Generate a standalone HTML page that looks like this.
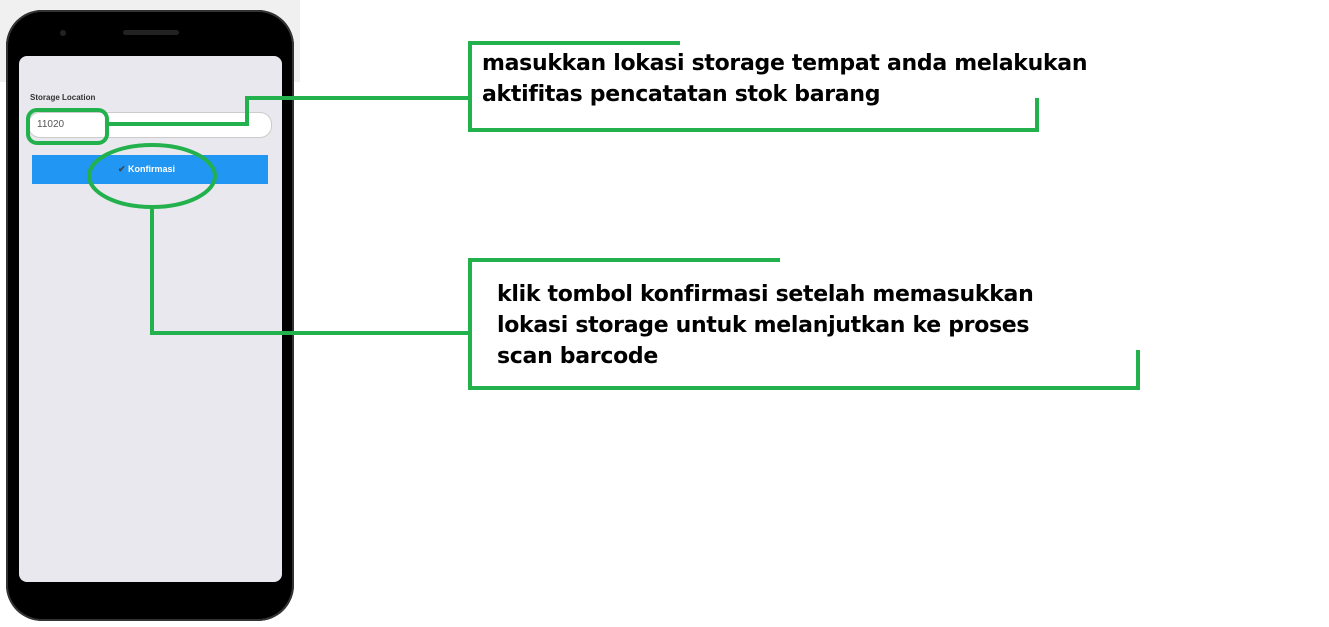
<!DOCTYPE html>
<html><head><style>
body{margin:0;width:1329px;height:627px;background:#fff;position:relative;overflow:hidden;font-family:"Liberation Sans",sans-serif}
.t{position:absolute;font-weight:bold;font-size:22px;color:#000;line-height:31px;font-family:"DejaVu Sans","Liberation Sans",sans-serif;letter-spacing:-0.3px}
</style></head><body>
<div style="position:absolute;left:0;top:0;width:300px;height:82px;background:#f0f0f0"></div>
<div style="position:absolute;left:6px;top:10px;width:288px;height:611px;background:#000;border-radius:36px;box-shadow:inset 0 0 0 2px #333"></div>
<div style="position:absolute;left:60px;top:30px;width:6px;height:6px;border-radius:50%;background:#222"></div>
<div style="position:absolute;left:123px;top:30px;width:56px;height:5px;border-radius:3px;background:#222"></div>
<div style="position:absolute;left:19px;top:56px;width:263px;height:526px;background:#e9e8ee;border-radius:8px"></div>
<div style="position:absolute;left:30px;top:93px;font-size:8px;font-weight:bold;color:#333">Storage Location</div>
<div style="position:absolute;left:28px;top:112px;width:242px;height:24px;background:#fff;border:1px solid #ccc;border-radius:12px"></div>
<div style="position:absolute;left:37px;top:119px;font-size:10px;color:#555">11020</div>
<div style="position:absolute;left:32px;top:155px;width:236px;height:29px;background:#2196f3"></div>
<div style="position:absolute;left:118px;top:164px;font-size:9px;font-weight:bold;color:#fff"><span style="color:#444">✔</span> Konfirmasi</div>
<svg width="1329" height="627" style="position:absolute;left:0;top:0" fill="none" stroke="#22b14c" stroke-width="4">
<rect x="28" y="110" width="79" height="33" rx="9"/>
<polyline points="105,124 247,124 247,98 470,98"/>
<polyline points="680,43 470,43 470,130 1037,130 1037,98"/>
<ellipse cx="152" cy="176" rx="63" ry="31"/>
<polyline points="152,207 152,333 470,333"/>
<polyline points="780,260 470,260 470,388 1138,388 1138,350"/>
</svg>
<div class="t" style="left:482px;top:48px">masukkan lokasi storage tempat anda melakukan<br>aktifitas pencatatan stok barang</div>
<div class="t" style="left:497px;top:279px">klik tombol konfirmasi setelah memasukkan<br>lokasi storage untuk melanjutkan ke proses<br>scan barcode</div>
</body></html>
